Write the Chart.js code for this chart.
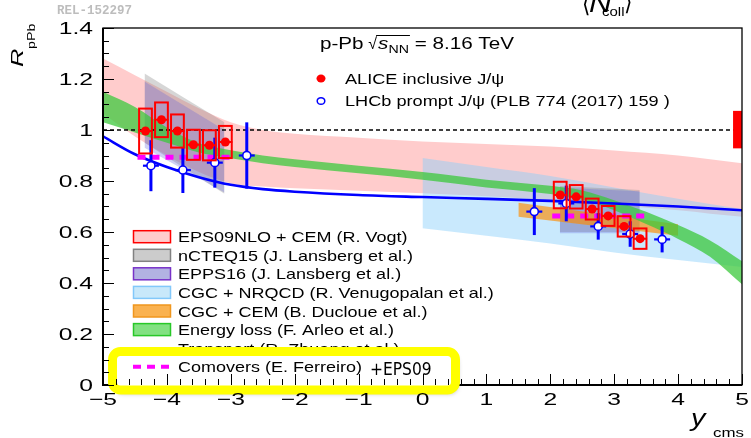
<!DOCTYPE html>
<html><head><meta charset="utf-8">
<script src="https://cdn.jsdelivr.net/npm/chart.js@4/dist/chart.umd.min.js"></script>
<style>html,body{margin:0;padding:0;background:#fff;}canvas{display:block;}</style>
</head><body>
<canvas id="c" width="751" height="438"></canvas>
<script>
// ---------------- data ----------------
const xTickValues = [-5,-4,-3,-2,-1,0,1,2,3,4,5];
const yTickValues = [0,0.2,0.4,0.6,0.8,1.0,1.2,1.4];

// ALICE inclusive J/psi
const aliceBwdX = [-4.335,-4.085,-3.835,-3.585,-3.335,-3.085];
const aliceBwdR = [0.996,1.040,0.996,0.942,0.940,0.953];
const aliceBwdSys = [0.088,0.068,0.065,0.059,0.059,0.063];
const aliceBwdStat = [0.012,0.012,0.011,0.011,0.011,0.012];
const aliceFwdX = [2.155,2.405,2.655,2.905,3.155,3.405];
const aliceFwdR = [0.745,0.738,0.690,0.663,0.622,0.574];
const aliceFwdSys = [0.052,0.046,0.041,0.039,0.040,0.040];
const aliceFwdStat = [0.010,0.010,0.010,0.010,0.010,0.011];
const aliceGlobalX = [4.86, 5.0];
const aliceGlobalR = [0.928, 1.075];

// LHCb prompt J/psi
const lhcbX = [-4.25,-3.75,-3.25,-2.75,1.75,2.25,2.75,3.25,3.75];
const lhcbR = [0.860,0.843,0.872,0.900,0.680,0.712,0.622,0.592,0.571];
const lhcbErr = [0.100,0.090,0.098,0.130,0.092,0.070,0.052,0.050,0.051];

// EPS09NLO + CEM
const eps09X  = [-5,-4.5,-4,-3.5,-3,-2.5,-2,-1,0,1,2,3,4,4.5,5];
const eps09Hi = [1.28,1.215,1.15,1.085,1.03,1.0,0.985,0.97,0.955,0.945,0.935,0.92,0.90,0.885,0.87];
const eps09Lo = [1.065,0.975,0.90,0.835,0.79,0.778,0.772,0.762,0.752,0.74,0.725,0.705,0.685,0.672,0.66];
// nCTEQ15
const ncteqBwdX = [-4.35,-3.1], ncteqBwdHi = [1.222,1.03], ncteqBwdLo = [0.95,0.75];
const ncteqFwdX = [2.15,3.4],   ncteqFwdHi = [0.78,0.765],  ncteqFwdLo = [0.60,0.60];
// EPPS16
const eppsBwdX = [-4.35,-3.1], eppsBwdHi = [1.19,1.0], eppsBwdLo = [0.93,0.755];
const eppsFwdX = [2.15,3.4],   eppsFwdHi = [0.775,0.76], eppsFwdLo = [0.595,0.595];
// CGC + NRQCD
const cgcX  = [0,1,2,3,4,5];
const cgcHi = [0.89,0.855,0.82,0.775,0.73,0.69];
const cgcLo = [0.615,0.585,0.555,0.52,0.49,0.463];
// CGC + CEM
const cemX = [1.5,4.0], cemHi = [0.715,0.63], cemLo = [0.66,0.585];
// Energy loss
const elossX   = [-5,-4.5,-4,-3.5,-3,-2.5,-2,-1,0,1,2,2.5,3,3.5,4,4.5,5];
const elossMid = [1.09,1.04,0.98,0.93,0.905,0.885,0.87,0.845,0.82,0.79,0.765,0.745,0.705,0.655,0.60,0.535,0.44];
const elossHw  = [0.06,0.05,0.03,0.018,0.016,0.015,0.015,0.015,0.015,0.015,0.016,0.018,0.02,0.024,0.027,0.032,0.045];
// Transport (solid blue curve)
const transX = [-5,-4.5,-4,-3.5,-3,-2.5,-2,-1,0,1,2,3,4,5];
const transY = [0.975,0.905,0.855,0.815,0.785,0.768,0.758,0.745,0.737,0.73,0.722,0.712,0.70,0.685];
// Comovers
const comBwdX = [-4.46,-2.96], comBwdY = [0.893,0.893];
const comFwdX = [2.03,3.53],   comFwdY = [0.663,0.663];
// unity
const unityX = [-5,5], unityY = [1,1];

const modelNames = ['EPS09NLO + CEM (R. Vogt)','nCTEQ15 (J. Lansberg et al.)','EPPS16 (J. Lansberg et al.)',
  'CGC + NRQCD (R. Venugopalan et al.)','CGC + CEM (B. Ducloue et al.)','Energy loss (F. Arleo et al.)',
  'Transport (R. Zhuang et al.)','Comovers (E. Ferreiro)'];

// ---------------- helpers ----------------
const FONT = '"Liberation Sans", Arial, Helvetica, sans-serif';
function T(ctx, s, x, y, size, o) {
  o = o || {};
  const sx = o.sx || 1;
  ctx.save();
  ctx.font = (o.italic ? 'italic ' : '') + (o.bold ? 'bold ' : '') + size + 'px ' + (o.family || FONT);
  ctx.fillStyle = o.color || '#000';
  ctx.textBaseline = 'alphabetic';
  ctx.textAlign = 'left';
  const w = ctx.measureText(s).width * sx;
  let x0 = x;
  if (o.align === 'center') x0 = x - w / 2; else if (o.align === 'right') x0 = x - w;
  ctx.translate(x0, y); ctx.scale(sx, 1); ctx.fillText(s, 0, 0);
  ctx.restore();
  return w;
}
const pts = (xs, ys) => xs.map((x, i) => ({x, y: ys[i]}));
function band(xs, lo, hi, color) {
  return [
    {data: pts(xs, lo), borderColor: 'transparent', borderWidth: 0, pointRadius: 0, fill: false, cubicInterpolationMode: 'monotone'},
    {data: pts(xs, hi), borderColor: 'transparent', borderWidth: 0, pointRadius: 0, fill: '-1', backgroundColor: color, cubicInterpolationMode: 'monotone'}
  ];
}

const datasets = [
  ...band(eps09X, eps09Lo, eps09Hi, 'rgba(255,0,0,0.2)'),
  ...band(ncteqBwdX, ncteqBwdLo, ncteqBwdHi, 'rgba(128,128,128,0.32)'),
  ...band(eppsBwdX, eppsBwdLo, eppsBwdHi, 'rgba(100,100,220,0.3)'),
  ...band(cgcX, cgcLo, cgcHi, 'rgba(135,206,250,0.45)'),
  ...band(ncteqFwdX, ncteqFwdLo, ncteqFwdHi, 'rgba(128,128,128,0.32)'),
  ...band(eppsFwdX, eppsFwdLo, eppsFwdHi, 'rgba(100,100,220,0.3)'),
  ...band(cemX, cemLo, cemHi, 'rgba(255,140,0,0.65)'),
  ...band(elossX, elossMid.map((m,i)=>m-elossHw[i]), elossMid.map((m,i)=>m+elossHw[i]), 'rgba(60,200,60,0.75)'),
  {data: pts(transX, transY), borderColor: '#0000ff', borderWidth: 2.6, pointRadius: 0, fill: false, cubicInterpolationMode: 'monotone'},
  {data: pts(unityX, unityY), borderColor: '#000', borderWidth: 1.5, borderDash: [4,3], pointRadius: 0, fill: false},
  {data: pts(comBwdX, comBwdY), borderColor: '#ff00ff', borderWidth: 5, borderDash: [8,6], pointRadius: 0, fill: false},
  {data: pts(comFwdX, comFwdY), borderColor: '#ff00ff', borderWidth: 5, borderDash: [8,6], pointRadius: 0, fill: false},
  {tag: 'lhcb', data: pts(lhcbX, lhcbR), showLine: false, pointRadius: 4, pointBorderWidth: 1.6,
   pointBackgroundColor: '#fff', pointBorderColor: '#0000ff', fill: false},
  {tag: 'alice', data: pts(aliceBwdX.concat(aliceFwdX), aliceBwdR.concat(aliceFwdR)), showLine: false, pointRadius: 4.5,
   pointBorderWidth: 0, pointBackgroundColor: '#ff0000', pointBorderColor: '#ff0000', fill: false}
];
datasets.forEach((d, i) => { d.order = datasets.length - i; });

function drawLhcbBars(chart) {
  const {ctx, scales: {x: xs, y: ys}} = chart;
  ctx.save();
  ctx.strokeStyle = '#0000ff';
  lhcbX.forEach((x, i) => {
    const px = xs.getPixelForValue(x), py = ys.getPixelForValue(lhcbR[i]);
    ctx.lineWidth = 3;
    ctx.beginPath();
    ctx.moveTo(px, ys.getPixelForValue(lhcbR[i] + lhcbErr[i]));
    ctx.lineTo(px, ys.getPixelForValue(lhcbR[i] - lhcbErr[i]));
    ctx.stroke();
    ctx.lineWidth = 2.2;
    ctx.beginPath();
    ctx.moveTo(xs.getPixelForValue(x - 0.125), py);
    ctx.lineTo(xs.getPixelForValue(x + 0.125), py);
    ctx.stroke();
  });
  ctx.restore();
}
function drawAliceBoxes(chart) {
  const {ctx, scales: {x: xs, y: ys}} = chart;
  const X = aliceBwdX.concat(aliceFwdX), R = aliceBwdR.concat(aliceFwdR);
  const S = aliceBwdSys.concat(aliceFwdSys), St = aliceBwdStat.concat(aliceFwdStat);
  ctx.save();
  ctx.strokeStyle = '#ff0000';
  X.forEach((x, i) => {
    const l = xs.getPixelForValue(x - 0.1), r = xs.getPixelForValue(x + 0.1);
    const t = ys.getPixelForValue(R[i] + S[i]), b = ys.getPixelForValue(R[i] - S[i]);
    ctx.lineWidth = 2;
    ctx.strokeRect(l, t, r - l, b - t);
    const py = ys.getPixelForValue(R[i]), px = xs.getPixelForValue(x);
    ctx.beginPath();
    ctx.moveTo(xs.getPixelForValue(x - 0.11), py); ctx.lineTo(xs.getPixelForValue(x + 0.11), py);
    ctx.moveTo(px, ys.getPixelForValue(R[i] + St[i])); ctx.lineTo(px, ys.getPixelForValue(R[i] - St[i]));
    ctx.stroke();
  });
  ctx.restore();
}

const deco = {
  id: 'deco',
  beforeDatasetDraw(chart, args) {
    const ds = chart.data.datasets[args.index];
    if (ds.tag === 'lhcb') drawLhcbBars(chart);
    if (ds.tag === 'alice') drawAliceBoxes(chart);
  },
  afterDatasetsDraw(chart) {
    const {ctx, scales: {x: xs, y: ys}} = chart;
    const l = xs.getPixelForValue(aliceGlobalX[0]), r = xs.getPixelForValue(aliceGlobalX[1]);
    const t = ys.getPixelForValue(aliceGlobalR[1]), b = ys.getPixelForValue(aliceGlobalR[0]);
    ctx.save(); ctx.fillStyle = '#ff0000'; ctx.fillRect(l, t, r - l, b - t); ctx.restore();
  },
  afterDraw(chart) {
    const {ctx, chartArea: ca, scales: {x: xs, y: ys}} = chart;
    ctx.save();
    // frame
    ctx.strokeStyle = '#000';
    ctx.lineWidth = 1.3;
    ctx.strokeRect(ca.left, ca.top, ca.right - ca.left, ca.bottom - ca.top);
    ctx.lineWidth = 2;
    ctx.beginPath();
    ctx.moveTo(ca.left, ca.top); ctx.lineTo(ca.left, ca.bottom); ctx.lineTo(ca.right, ca.bottom);
    ctx.stroke();

    // header texts
    T(ctx, 'REL-152297', 57, 13.5, 12.5, {family: '"Liberation Mono", "DejaVu Sans Mono", monospace', bold: true, color: '#bdbdbd'});
    T(ctx, '\u27E8', 582, 12, 24, {family: '"DejaVu Sans", sans-serif', sx: 0.9});
    T(ctx, 'N', 589, 12, 26, {italic: true, sx: 1.2});
    T(ctx, 'coll', 602, 16, 12.5, {sx: 1.2});
    T(ctx, '\u27E9', 624, 10, 24, {family: '"DejaVu Sans", sans-serif', sx: 0.9});

    // p-Pb line
    let x = 320; const by = 49, sx = 1.29;
    x += T(ctx, 'p-Pb ', x, by, 16, {sx});
    const wS = T(ctx, '\u221A', x - 1, by, 16, {sx: 1.0});
    const ovStart = x - 1 + wS - 1;
    x += wS;
    x += T(ctx, 's', x, by, 16, {sx, italic: true});
    x += T(ctx, 'NN', x, by + 4, 11, {sx});
    ctx.lineWidth = 1.2; ctx.strokeStyle = '#000';
    ctx.beginPath(); ctx.moveTo(ovStart, by - 13.5); ctx.lineTo(x + 1, by - 13.5); ctx.stroke();
    T(ctx, ' = 8.16 TeV', x, by, 16, {sx});

    // data legend
    ctx.fillStyle = '#ff0000';
    ctx.beginPath(); ctx.ellipse(321, 78.5, 4.5, 4, 0, 0, Math.PI * 2); ctx.fill();
    ctx.strokeStyle = '#0000ff'; ctx.lineWidth = 1.5;
    ctx.beginPath(); ctx.ellipse(321, 101, 3.8, 3.3, 0, 0, Math.PI * 2); ctx.stroke();
    T(ctx, 'ALICE inclusive J/\u03C8', 345, 84, 15, {sx: 1.21});
    T(ctx, 'LHCb prompt J/\u03C8 (PLB 774 (2017) 159 )', 345, 106, 15, {sx: 1.21});

    // model legend
    const rowY = [236.7,255.3,273.8,292.4,311.0,329.6,348.1,366.7];
    const fills = ['rgb(255,204,204)','rgb(204,204,204)','rgb(178,178,226)','rgb(200,232,250)','rgb(250,178,80)','rgb(130,225,130)'];
    const strokes = ['rgb(255,0,0)','rgb(130,130,130)','rgb(120,50,200)','rgb(130,200,250)','rgb(240,150,30)','rgb(40,200,40)'];
    for (let i = 0; i < 6; i++) {
      ctx.fillStyle = fills[i]; ctx.strokeStyle = strokes[i]; ctx.lineWidth = 1.5;
      ctx.fillRect(133.5, rowY[i] - 6, 37, 12);
      ctx.strokeRect(133.5, rowY[i] - 6, 37, 12);
    }
    for (let i = 0; i < 7; i++) T(ctx, modelNames[i], 178, rowY[i] + 5.5, 15, {sx: 1.2});

    // yellow highlight box
    ctx.save();
    ctx.shadowColor = 'rgba(0,0,0,0.35)'; ctx.shadowBlur = 5; ctx.shadowOffsetX = 2; ctx.shadowOffsetY = 3;
    ctx.beginPath(); ctx.roundRect(112.5, 351.5, 343, 38.5, 8);
    ctx.fillStyle = '#fff'; ctx.fill();
    ctx.shadowColor = 'transparent';
    ctx.lineWidth = 9; ctx.strokeStyle = '#ffff00'; ctx.stroke();
    ctx.restore();
    ctx.strokeStyle = '#ff00ff'; ctx.lineWidth = 4; ctx.setLineDash([8, 6]);
    ctx.beginPath(); ctx.moveTo(133, rowY[7]); ctx.lineTo(172, rowY[7]); ctx.stroke();
    ctx.setLineDash([]);
    T(ctx, modelNames[7], 178, rowY[7] + 5, 15, {sx: 1.2});
    T(ctx, '+EPS09', 370, 375, 18, {family: '"DejaVu Sans", sans-serif', sx: 0.86});

    // ticks (inside)
    ctx.strokeStyle = '#000'; ctx.lineWidth = 1;
    for (let i = 0; i <= 28; i++) {
      const v = i * 0.05, py = Math.round(ys.getPixelForValue(v)) + 0.5;
      const len = i % 4 === 0 ? 11 : 6;
      ctx.beginPath(); ctx.moveTo(ca.left, py); ctx.lineTo(ca.left + len, py); ctx.stroke();
    }
    for (let i = 0; i <= 50; i++) {
      const v = -5 + i * 0.2, px = Math.round(xs.getPixelForValue(v)) + 0.5;
      const len = i % 5 === 0 ? 11 : 6;
      ctx.beginPath(); ctx.moveTo(px, ca.bottom); ctx.lineTo(px, ca.bottom - len); ctx.stroke();
    }

    // tick labels
    ys.ticks.forEach(t => {
      const lab = String(Number(t.value.toFixed(1)));
      T(ctx, lab, 93, ys.getPixelForValue(t.value) + 6, 17, {sx: 1.45, align: 'right'});
    });
    xs.ticks.forEach(t => {
      const v = Math.round(t.value);
      const lab = v < 0 ? '\u2212' + Math.abs(v) : String(v);
      T(ctx, lab, xs.getPixelForValue(v), 405, 17, {sx: 1.45, align: 'center'});
    });

    // axis titles
    ctx.save();
    ctx.translate(23, 67); ctx.rotate(-Math.PI / 2);
    T(ctx, 'R', 0, 0, 17, {italic: true, sx: 1.5});
    T(ctx, 'pPb', 18, 12, 11, {sx: 1.3});
    ctx.restore();
    T(ctx, 'y', 691, 426, 24, {italic: true, sx: 1.2});
    T(ctx, 'cms', 713, 437, 13, {sx: 1.3});
    ctx.restore();
  }
};

new Chart(document.getElementById('c'), {
  type: 'line',
  data: {datasets},
  options: {
    responsive: false,
    animation: false,
    events: [],
    layout: {padding: {left: 0, right: 9, top: 28, bottom: 0}},
    plugins: {legend: {display: false}, tooltip: {enabled: false}},
    scales: {
      x: {type: 'linear', min: -5, max: 5, ticks: {display: false, stepSize: 1},
          grid: {display: false}, border: {display: false}, afterFit: s => { s.height = 53; }},
      y: {type: 'linear', min: 0, max: 1.4, ticks: {display: false, stepSize: 0.2},
          grid: {display: false}, border: {display: false}, afterFit: s => { s.width = 103; }}
    }
  },
  plugins: [deco]
});
</script>
</body></html>
